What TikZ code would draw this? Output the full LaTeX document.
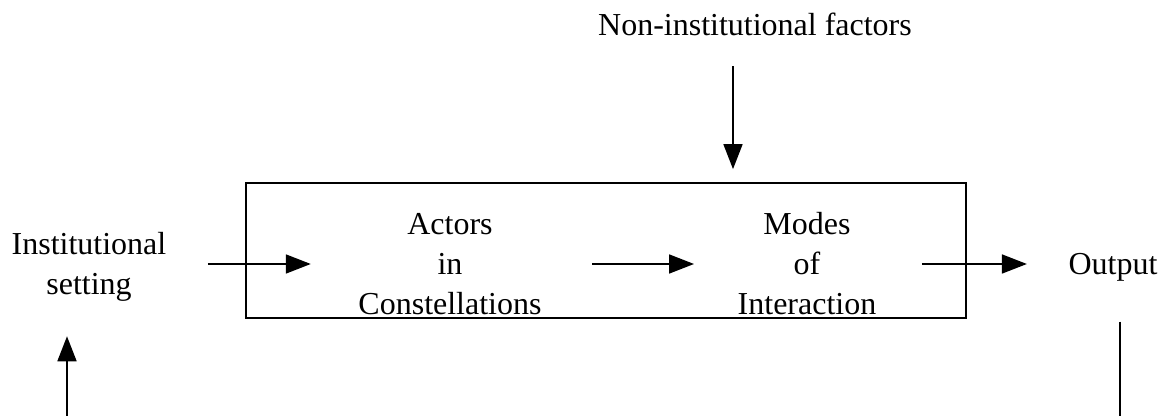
\documentclass[tikz,border=0pt]{standalone}
\usepackage{fontspec}
\setmainfont{Liberation Serif}
\usetikzlibrary{arrows.meta,positioning}

\begin{document}
\begin{tikzpicture}[x=1cm,y=1cm,
      font=\fontsize{9.1}{11.4}\selectfont,
      lbl/.style={align=center,inner sep=0pt},
      flow/.style={-{Triangle[length=2.5mm,width=1.9mm]},line width=0.5pt}]
    \useasboundingbox (0,0) rectangle (11.66,4.16);
    \node[draw,line width=0.5pt,minimum width=7.2cm,minimum height=1.35cm] (frame) at (6.06,1.655) {};
    \node[lbl] (inst) at (0.89,1.49) {Institutional\\setting};
    \node[lbl] (actors) at (4.50,1.52) {Actors\\in\\Constellations};
    \node[lbl] (modes) at (8.07,1.52) {Modes\\of\\Interaction};
    \node[lbl] (out) at (11.13,1.49) {Output};
    \node[lbl] (nonins) at (7.55,3.92) {Non-institutional factors};
    \coordinate (fbL) at (0.67,0);
    \coordinate (fbR) at (11.20,0);
    % main chain
    \draw[flow,shorten <=0.41cm,shorten >=0.47cm] (inst.east |- actors.west) -- (actors.west);
    \draw[flow,shorten <=0.50cm,shorten >=0.43cm] (actors) -- (modes);
    \draw[flow,shorten <=0.45cm,shorten >=0.41cm] (modes.east) -- (out.west |- modes.east);
    \draw[flow,shorten <=0.30cm,shorten >=0.13cm] ([xshift=-0.22cm]nonins.south)
      -- ([xshift=-0.22cm]nonins.south |- frame.north);
    % feedback, cut at the bottom
    \draw[flow,shorten >=0.34cm] (fbL) -- (fbL |- inst.south);
    \draw[line width=0.5pt,shorten <=0.40cm] (fbR |- out.south) -- (fbR);
\end{tikzpicture}
\end{document}
